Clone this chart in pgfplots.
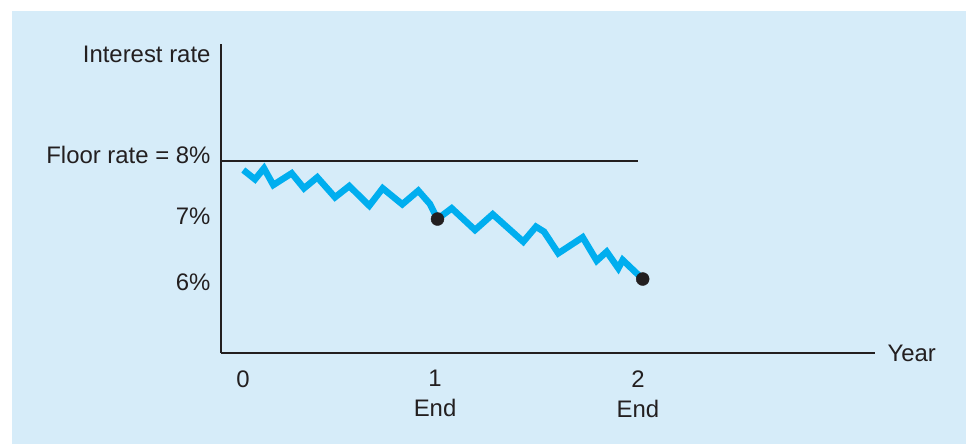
\documentclass[border=0pt]{standalone}
\usepackage{fontspec}
\setmainfont{Liberation Sans}
\usepackage{pgfplots}
\pgfplotsset{compat=1.18}
\usetikzlibrary{backgrounds}
\definecolor{bgblue}{RGB}{214,236,249}
\definecolor{cyanline}{RGB}{0,174,239}
\definecolor{inkdark}{RGB}{35,31,32}
\begin{document}
\begin{tikzpicture}
\begin{axis}[
  x=198bp, y=60bp,
  xmin=-0.106, xmax=3.197, ymin=4.8, ymax=9.95,
  axis lines=left,
  axis line style={-, draw=inkdark, line width=1.2bp},
  clip=false,
  major tick length=0pt,
  xtick={0.005,0.975,2.0},
  xticklabels={0,{1\\End},{2\\End}},
  ytick={5.98,7.08,8.1,9.77},
  yticklabels={6\%,7\%,Floor rate = 8\%,Interest rate},
  tick label style={font=\fontsize{24}{30}\selectfont, text=inkdark},
  xticklabel style={align=center, anchor=north, yshift=-14bp},
  yticklabel style={xshift=-7bp},
  xlabel={Year},
  xlabel style={at={(rel axis cs:1,0)}, anchor=west, font=\fontsize{24}{30}\selectfont, text=inkdark, xshift=9bp},
]
\addplot[draw=inkdark, line width=1.2bp] coordinates {(-0.106,8) (2.0,8)};
\addplot[draw=cyanline, line width=6.5bp, mark=none] coordinates {
(0.0066,7.85) (0.0657,7.695) (0.1111,7.878) (0.1581,7.6) (0.251,7.795)
(0.3131,7.545) (0.3803,7.728) (0.4697,7.395) (0.5419,7.583) (0.6429,7.255)
(0.7106,7.545) (0.8096,7.278) (0.8904,7.505) (0.9495,7.283) (0.9874,7.033)
(1.0591,7.212) (1.1768,6.85) (1.2662,7.112) (1.4207,6.655) (1.4848,6.905)
(1.5253,6.822) (1.5975,6.462) (1.7207,6.728) (1.7914,6.338) (1.8419,6.488)
(1.9005,6.212) (1.9227,6.35) (2.0237,6.033)};
\addplot[only marks, mark=*, mark size=6.5bp, color=inkdark] coordinates {(0.9874,7.033) (2.0237,6.033)};
\coordinate (bbtl) at (axis cs:-1.2222,10.6833);
\coordinate (bbbr) at (axis cs:3.6566,3.2833);
\coordinate (bgtl) at (axis cs:-1.1616,10.5);
\end{axis}
\begin{pgfonlayer}{background}
\fill[bgblue] (bgtl) rectangle (bbbr);
\end{pgfonlayer}
\pgfresetboundingbox
\path[use as bounding box] (bbtl) rectangle (bbbr);
\end{tikzpicture}
\end{document}
